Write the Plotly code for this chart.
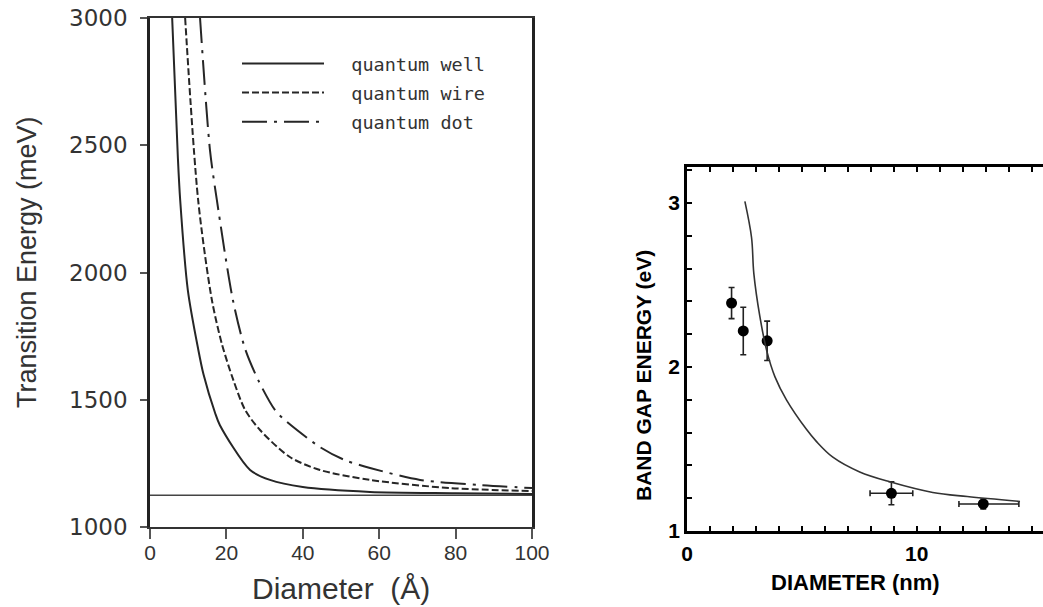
import plotly.graph_objects as go

W, H = 1043, 607

# ---------------- Left panel data (Diameter in Å, energy in meV) ----------------
well_d = [5.8, 7.3, 7.9, 9.9, 12.6, 14.0, 17.0, 18.3, 26.2, 31.4, 40.0, 57.6, 80.0, 100.0]
well_E = [3000, 2450, 2285, 1931, 1700, 1600, 1450, 1400, 1224, 1185, 1157, 1138, 1133, 1130]

wire_d = [9.2, 12.6, 16.2, 18.8, 21.8, 24.9, 28.8, 36.6, 44.5, 57.6, 78.5, 100.0]
wire_E = [3000, 2285, 1892, 1720, 1578, 1460, 1381, 1275, 1224, 1185, 1153, 1141]

dot_d = [13.1, 15.7, 17.5, 21.7, 24.9, 28.4, 32.7, 35.3, 44.5, 51.0, 57.6, 70.7, 86.4, 100.0]
dot_E = [3000, 2481, 2285, 1892, 1700, 1575, 1460, 1420, 1314, 1263, 1232, 1185, 1165, 1153]

bulk_d = [0, 100]
bulk_E = [1125, 1125]

left_xticks = [0, 20, 40, 60, 80, 100]
left_yticks = [1000, 1500, 2000, 2500, 3000]

# ---------------- Right panel data (Diameter in nm, energy in eV) ----------------
fit_d = [2.52, 2.81, 2.91, 3.17, 3.47, 3.83, 4.33, 5.2, 5.64, 6.35, 7.52, 8.83, 10.7, 12.2, 14.5]
fit_E = [3.01, 2.79, 2.57, 2.31, 2.10, 1.94, 1.80, 1.62, 1.545, 1.45, 1.36, 1.30, 1.235, 1.21, 1.18]

pts_d = [1.94, 2.45, 3.49, 8.9, 12.9]
pts_E = [2.39, 2.22, 2.16, 1.23, 1.165]
pts_errE = [0.095, 0.145, 0.12, 0.07, 0.03]
pts_errd_plus = [0, 0, 0, 0.93, 1.55]
pts_errd_minus = [0, 0, 0, 0.93, 1.06]

right_xticks = [0, 10]
right_yticks = [1, 2, 3]
right_xrange = [0, 15.5]

# ---------------- helpers ----------------
def px(x):
    return x / W

def py(y):
    return 1 - y / H

INK = "#262626"
NB = "\u00a0\u00a0"

fig = go.Figure()

fig.add_trace(go.Scatter(x=bulk_d, y=bulk_E, mode="lines", showlegend=False,
                         line=dict(color="#444", width=1.5), xaxis="x", yaxis="y"))
fig.add_trace(go.Scatter(x=well_d, y=well_E, mode="lines", name=NB + "quantum well",
                         legendgroup="a", line=dict(color=INK, width=2, shape="spline", smoothing=0.8),
                         xaxis="x", yaxis="y"))
fig.add_trace(go.Scatter(x=wire_d, y=wire_E, mode="lines", name=NB + "quantum wire",
                         legendgroup="b", line=dict(color=INK, width=2, dash="7px,3px", shape="spline", smoothing=0.8),
                         xaxis="x", yaxis="y"))
fig.add_trace(go.Scatter(x=dot_d, y=dot_E, mode="lines", name=NB + "quantum dot",
                         legendgroup="c", line=dict(color=INK, width=2, dash="25px,7px,3px,7px", shape="spline", smoothing=0.8),
                         xaxis="x", yaxis="y"))

# fit curve on the top (overlaid, same range) x-axis so that axis is drawn as the top frame
fig.add_trace(go.Scatter(x=fit_d, y=fit_E, mode="lines", showlegend=False,
                         line=dict(color="#333", width=1.6, shape="spline", smoothing=1.0),
                         xaxis="x3", yaxis="y2"))
fig.add_trace(go.Scatter(x=pts_d, y=pts_E, mode="markers", showlegend=False,
                         marker=dict(color="black", size=11),
                         error_y=dict(type="data", array=pts_errE, color="#222", thickness=1.6, width=3),
                         error_x=dict(type="data", array=pts_errd_plus, arrayminus=pts_errd_minus,
                                      symmetric=False, color="#222", thickness=1.6, width=3),
                         xaxis="x2", yaxis="y2"))

left_font = dict(family="Liberation Sans, Arial", size=21, color="#333")
right_font = dict(family="Liberation Sans, Arial", size=21, color="black", weight="bold")
right_minor_x = dict(dtick=1, ticks="inside", ticklen=5, tickwidth=1.5, tickcolor="black", showgrid=False)

fig.update_layout(
    width=W, height=H, autosize=False,
    margin=dict(l=0, r=0, t=0, b=0, autoexpand=False),
    paper_bgcolor="white", plot_bgcolor="white",
    showlegend=True,
    legend=dict(x=px(237), y=py(45), xanchor="left", yanchor="top",
                bgcolor="rgba(0,0,0,0)", borderwidth=0,
                itemwidth=82, traceorder="grouped", tracegroupgap=2,
                font=dict(family="DejaVu Sans Mono", size=18.5, color="#333")),
    xaxis=dict(domain=[px(150), px(532)], range=[0, 100], tickvals=left_xticks,
               showline=True, linecolor="#333", linewidth=2, mirror=True,
               ticks="outside", ticklen=10, tickwidth=2, tickcolor="#555",
               showgrid=False, zeroline=False, tickfont=left_font, anchor="y",
               ticklabelstandoff=-4, automargin=False),
    yaxis=dict(domain=[py(527), py(18)], range=[1000, 3000], tickvals=left_yticks,
               showline=True, linecolor="#222", linewidth=2.5, mirror=True,
               ticks="outside", ticklen=7, tickwidth=2, tickcolor="#555",
               showgrid=False, zeroline=False, anchor="x",
               tickfont=dict(family="DejaVu Sans", size=23, color="#333"),
               ticklabelstandoff=8, automargin=False),
    xaxis2=dict(domain=[px(687), 1.0], range=right_xrange, tickvals=right_xticks,
                showline=True, linecolor="black", linewidth=2.5, mirror=False,
                ticks="inside", ticklen=5, tickwidth=1.5, tickcolor="black",
                minor=right_minor_x,
                showgrid=False, zeroline=False, tickfont=right_font, anchor="y2",
                ticklabelstandoff=2, automargin=False),
    xaxis3=dict(overlaying="x2", side="top", anchor="y2", range=right_xrange,
                tickvals=right_xticks, showticklabels=False,
                showline=True, linecolor="black", linewidth=2.5,
                ticks="inside", ticklen=5, tickwidth=1.5, tickcolor="black",
                minor=right_minor_x, showgrid=False, zeroline=False, automargin=False),
    yaxis2=dict(domain=[py(531), py(167)], range=[1, 3.22], tickvals=right_yticks,
                showline=True, linecolor="black", linewidth=2.5, mirror=False,
                ticks="inside", ticklen=5, tickwidth=1.5, tickcolor="black",
                minor=dict(dtick=0.2, ticks="inside", ticklen=5, tickwidth=1.5, tickcolor="black", showgrid=False),
                showgrid=False, zeroline=False, tickfont=right_font, anchor="x2",
                automargin=False),
)

annos = [
    dict(text="Transition Energy (meV)", x=px(27), y=py(262), textangle=-90,
         font=dict(family="Liberation Sans, Arial", size=27, color="#333")),
    dict(text="Diameter  (Å)", x=px(341), y=py(588),
         font=dict(family="Liberation Sans, Arial", size=30, color="#333")),
    dict(text="DIAMETER (nm)", x=px(855), y=py(582),
         font=dict(family="Liberation Sans, Arial", size=22, color="black", weight="bold")),
    dict(text="BAND GAP ENERGY (eV)", x=px(643), y=py(376), textangle=-90,
         font=dict(family="Liberation Sans, Arial", size=21, color="black", weight="bold")),
]
for a in annos:
    fig.add_annotation(xref="paper", yref="paper", showarrow=False,
                       xanchor="center", yanchor="middle", **a)

fig.write_html("out.html")
